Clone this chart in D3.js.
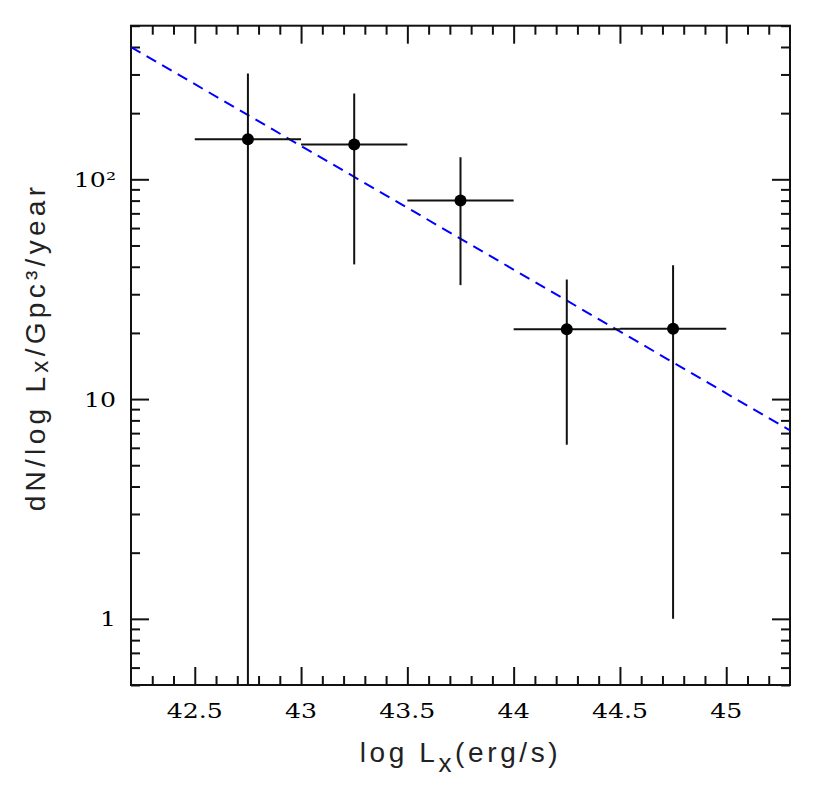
<!DOCTYPE html>
<html>
<head>
<meta charset="utf-8">
<script src="https://cdn.jsdelivr.net/npm/d3@7"></script>
<style>
  html, body { margin: 0; padding: 0; background: #fff; }
  svg { display: block; }
</style>
</head>
<body>
<svg id="chart" width="831" height="808"></svg>
<script>
// ---- data ----
const binCenter = [42.75, 43.25, 43.75, 44.25, 44.75];
const binLow    = [42.5, 43.0, 43.5, 44.0, 44.5];
const binHigh   = [43.0, 43.5, 44.0, 44.5, 45.0];
const rate      = [152, 144, 80, 20.8, 20.9];
const rateLow   = [0.3, 41, 33, 6.2, 1.0];
const rateHigh  = [303, 246, 126, 35, 40.6];

const fitX = [42.2, 45.3];
const fitY = [400, 7.2];

const xTickValues = [42.5, 43, 43.5, 44, 44.5, 45];
const xTickLabels = ["42.5", "43", "43.5", "44", "44.5", "45"];
const yTickValues = [1, 10, 100];
const yTickLabels = ["1", "10", "10²"];

// ---- layout ----
const svg = d3.select("#chart");
const L = 131, R = 790, T = 25.7, B = 685;
const x = d3.scaleLinear().domain([42.2, 45.3]).range([L, R]);
const y = d3.scaleLog().domain([0.5, 500]).range([B, T]);

const majorLen = 18, minorLen = 9;
const lineColor = "#111";

const xMinor = d3.range(42.3, 45.25, 0.1).map(v => Math.round(v * 10) / 10)
  .filter(v => !xTickValues.some(t => Math.abs(t - v) < 1e-6));
const yMinor = [];
[0.1, 1, 10, 100].forEach(d => {
  for (let k = 2; k <= 9; k++) {
    const v = +(d * k).toPrecision(3);
    if (v >= 0.5 && v <= 500 && !yTickValues.includes(v)) yMinor.push(v);
  }
});

function styleAxis(g) {
  g.select(".domain").remove();
  g.selectAll(".tick line").attr("stroke", lineColor).attr("stroke-width", 2);
}

// bottom ticks
svg.append("g").attr("transform", `translate(0,${B})`)
  .call(d3.axisBottom(x).tickValues(xTickValues).tickSize(-majorLen).tickFormat("")).call(styleAxis);
svg.append("g").attr("transform", `translate(0,${B})`)
  .call(d3.axisBottom(x).tickValues(xMinor).tickSize(-minorLen).tickFormat("")).call(styleAxis);
// top ticks
svg.append("g").attr("transform", `translate(0,${T})`)
  .call(d3.axisTop(x).tickValues(xTickValues).tickSize(-majorLen).tickFormat("")).call(styleAxis);
svg.append("g").attr("transform", `translate(0,${T})`)
  .call(d3.axisTop(x).tickValues(xMinor).tickSize(-minorLen).tickFormat("")).call(styleAxis);
// left ticks
svg.append("g").attr("transform", `translate(${L},0)`)
  .call(d3.axisLeft(y).tickValues(yTickValues).tickSize(-majorLen).tickFormat("")).call(styleAxis);
svg.append("g").attr("transform", `translate(${L},0)`)
  .call(d3.axisLeft(y).tickValues(yMinor).tickSize(-minorLen).tickFormat("")).call(styleAxis);
// right ticks
svg.append("g").attr("transform", `translate(${R},0)`)
  .call(d3.axisRight(y).tickValues(yTickValues).tickSize(-majorLen).tickFormat("")).call(styleAxis);
svg.append("g").attr("transform", `translate(${R},0)`)
  .call(d3.axisRight(y).tickValues(yMinor).tickSize(-minorLen).tickFormat("")).call(styleAxis);

// tick labels (drawn through the scales), wide serif digits
svg.append("g").selectAll("text").data(xTickValues).enter().append("text")
  .attr("transform", d => `translate(${x(d)},${B + 33}) scale(1.2,1)`)
  .attr("text-anchor", "middle")
  .style("font-family", "'DejaVu Serif', serif").style("font-size", "21px").style("fill", "#000")
  .text((d, i) => xTickLabels[i]);

svg.append("g").selectAll("text").data(yTickValues).enter().append("text")
  .attr("transform", d => `translate(${L - 15},${y(d)}) scale(1.2,1)`)
  .attr("dy", "0.36em")
  .attr("text-anchor", "end")
  .style("font-family", "'DejaVu Serif', serif").style("font-size", "21px").style("fill", "#000")
  .text((d, i) => yTickLabels[i]);

// frame
svg.append("rect").attr("x", L).attr("y", T).attr("width", R - L).attr("height", B - T)
  .attr("fill", "none").attr("stroke", lineColor).attr("stroke-width", 2);

// clip
svg.append("clipPath").attr("id", "plotclip").append("rect")
  .attr("x", L).attr("y", T).attr("width", R - L).attr("height", B - T);
const plot = svg.append("g").attr("clip-path", "url(#plotclip)");

// fit line
const fitData = fitX.map((v, i) => [v, fitY[i]]);
plot.append("path").datum(fitData)
  .attr("d", d3.line().x(d => x(d[0])).y(d => y(d[1])))
  .attr("fill", "none").attr("stroke", "#0000ff").attr("stroke-width", 2)
  .attr("stroke-dasharray", "11,7");

// error bars
const pts = binCenter.map((c, i) => ({c, lo: binLow[i], hi: binHigh[i], v: rate[i], vl: rateLow[i], vh: rateHigh[i]}));
plot.selectAll(".hbar").data(pts).enter().append("line")
  .attr("x1", d => x(d.lo)).attr("x2", d => x(d.hi))
  .attr("y1", d => y(d.v)).attr("y2", d => y(d.v))
  .attr("stroke", lineColor).attr("stroke-width", 2);
plot.selectAll(".vbar").data(pts).enter().append("line")
  .attr("x1", d => x(d.c)).attr("x2", d => x(d.c))
  .attr("y1", d => y(d.vl)).attr("y2", d => y(d.vh))
  .attr("stroke", lineColor).attr("stroke-width", 2);
plot.selectAll(".dot").data(pts).enter().append("circle")
  .attr("cx", d => x(d.c)).attr("cy", d => y(d.v)).attr("r", 6).attr("fill", "#000");

// axis titles
const xt = svg.append("text").attr("x", (L + R) / 2).attr("y", 762)
  .attr("text-anchor", "middle").attr("font-family", "'Liberation Sans', sans-serif")
  .attr("font-size", 28).attr("letter-spacing", 3.6).attr("fill", "#222");
xt.append("tspan").text("log L");
xt.append("tspan").attr("font-size", 26).attr("dy", 10).text("x");
xt.append("tspan").attr("dy", -10).text("(erg/s)");

const yt = svg.append("text").attr("transform", "translate(45,347) rotate(-90)")
  .attr("text-anchor", "middle").attr("font-family", "'Liberation Sans', sans-serif")
  .attr("font-size", 28).attr("letter-spacing", 4.3).attr("fill", "#222");
yt.append("tspan").text("dN/log L");
yt.append("tspan").attr("font-size", 24).attr("dy", 3).text("x");
yt.append("tspan").attr("dy", -3).text("/Gpc³/year");
</script>
</body>
</html>
